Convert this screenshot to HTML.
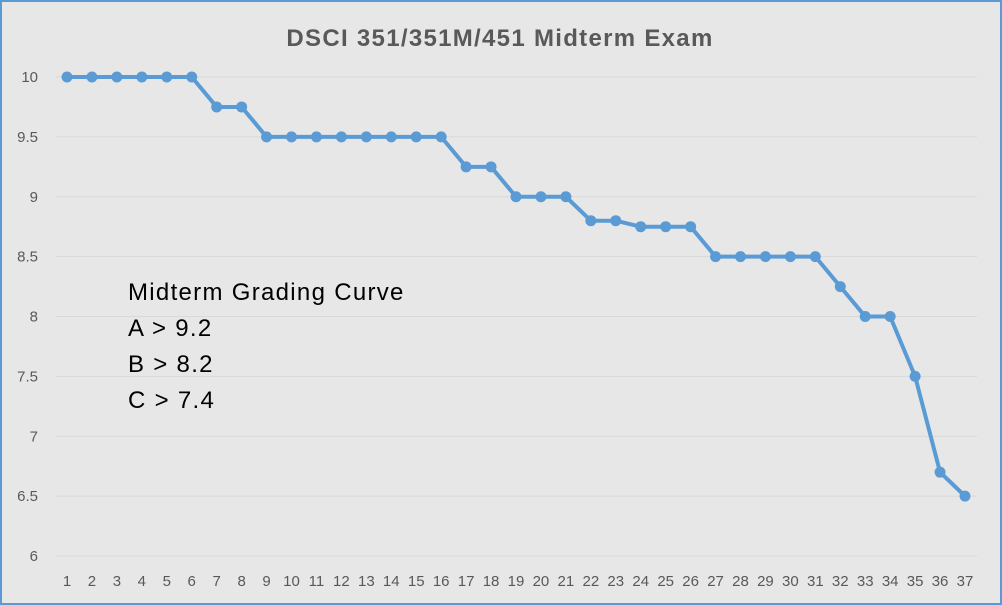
<!DOCTYPE html>
<html><head><meta charset="utf-8"><style>
html,body{margin:0;padding:0;}
body{width:1002px;height:605px;overflow:hidden;background:#e7e7e7;}
#frame{position:absolute;left:0;top:0;width:998px;height:601px;border:2px solid #5b9bd5;background:#e7e7e7;}
svg{position:absolute;left:0;top:0;}
text{font-family:"Liberation Sans",sans-serif;}
</style></head><body>
<div id="frame"></div>
<svg id="chart" width="1002" height="605">
<text x="500" y="46" text-anchor="middle" font-size="24" font-weight="bold" letter-spacing="1.3" fill="#595959">DSCI 351/351M/451 Midterm Exam</text>
<g id="grid"></g>
<g id="ylabels"></g>
<g id="xlabels"></g>
<g id="series"></g>
<g font-size="24" letter-spacing="1.3" fill="#000">
<text x="128" y="300">Midterm Grading Curve</text>
<text x="128" y="336">A &gt; 9.2</text>
<text x="128" y="372">B &gt; 8.2</text>
<text x="128" y="408">C &gt; 7.4</text>
</g>
</svg>
<script>
const categories = Array.from({length:37},(_,i)=>String(i+1));
const scores = [10,10,10,10,10,10,9.75,9.75,9.5,9.5,9.5,9.5,9.5,9.5,9.5,9.5,9.25,9.25,9,9,9,8.8,8.8,8.75,8.75,8.75,8.5,8.5,8.5,8.5,8.5,8.25,8,8,7.5,6.7,6.5];
const yTicks = [6,6.5,7,7.5,8,8.5,9,9.5,10];
const NS="http://www.w3.org/2000/svg";
const X0=67,X1=965,Y10=77,Y6=556;
function xs(i){return X0+(X1-X0)*i/(categories.length-1);}
function ys(v){return Y6-(v-6)*(Y6-Y10)/4;}
function mk(tag,attrs,parent){const e=document.createElementNS(NS,tag);for(const k in attrs)e.setAttribute(k,attrs[k]);parent.appendChild(e);return e;}
const grid=document.getElementById('grid'),yl=document.getElementById('ylabels'),xl=document.getElementById('xlabels'),ser=document.getElementById('series');
yTicks.forEach(t=>{
  const l=mk('line',{x1:56,x2:977,y1:ys(t),y2:ys(t),stroke:'#d9d9d9','stroke-width':1},grid);
  
  
  const tx=mk('text',{x:38,y:ys(t)+5,'text-anchor':'end','font-size':15,fill:'#595959'},yl);
  tx.textContent=String(t);
  
  
});
categories.forEach((c,i)=>{
  const tx=mk('text',{x:xs(i),y:586,'text-anchor':'middle','font-size':15,fill:'#595959'},xl);
  tx.textContent=c;
  
  
});
const pts=scores.map((v,i)=>xs(i)+','+ys(v)).join(' ');
const pl=mk('polyline',{points:pts,fill:'none',stroke:'#5b9bd5','stroke-width':4,'stroke-linejoin':'round'},ser);


scores.forEach((v,i)=>{
  const c=mk('circle',{cx:xs(i),cy:ys(v),r:5.5,fill:'#5b9bd5'},ser);
  
  
});
</script>
</body></html>
